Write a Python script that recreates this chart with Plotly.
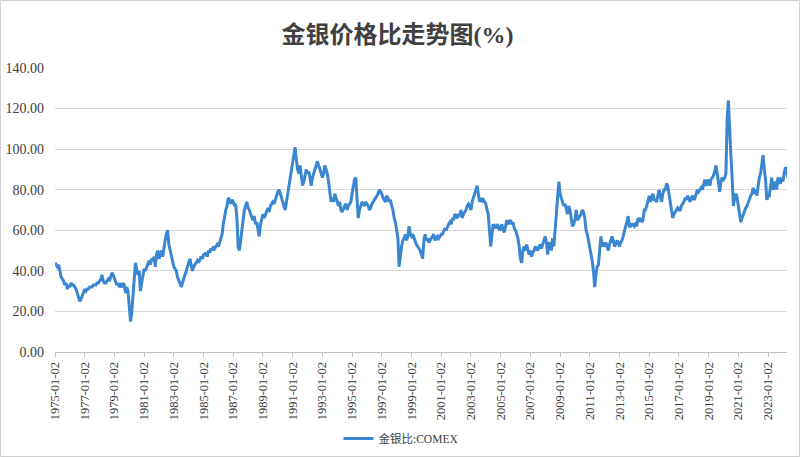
import plotly.graph_objects as go
import pandas as pd

# Monthly gold/silver ratio readings (COMEX), Jan 1975 onward
start_month = "1975-01-02"
ratio_values = [
    # 1975
    44, 42, 43, 39, 37, 36, 35, 33, 34, 31, 33, 32,
    # 1976
    34, 33, 33, 32, 31, 29, 27, 25, 26, 28, 30, 31,
    # 1977
    30, 31, 31, 32, 32, 32, 33, 33, 33, 34, 34, 35,
    # 1978
    36, 38, 35, 34, 34, 35, 36, 35, 37, 39, 38, 36,
    # 1979
    35, 33, 34, 32, 33, 32, 34, 33, 29, 32, 30, 22,
    # 1980
    15, 19, 28, 40, 44, 41, 38, 40, 30, 34, 38, 41,
    # 1981
    40, 42, 44, 45, 43, 46, 45, 47, 42, 48, 50, 46,
    # 1982
    48, 50, 47, 52, 55, 58, 60, 53, 50, 47, 45, 42,
    # 1983
    41, 40, 37, 35, 33, 32, 34, 36, 38, 40, 43, 44,
    # 1984
    46, 43, 40, 42, 43, 44, 45, 44, 46, 47, 46, 48,
    # 1985
    48, 49, 47, 50, 49, 51, 50, 52, 51, 52, 53, 52,
    # 1986
    54, 56, 58, 63, 68, 70, 72, 76, 75, 73, 75, 74,
    # 1987
    72, 73, 66, 52, 50, 55, 62, 65, 70, 72, 74, 71,
    # 1988
    70, 68, 66, 65, 67, 63, 64, 60, 57, 63, 66, 68,
    # 1989
    66, 68, 70, 71, 69, 72, 73, 74, 73, 75, 78, 79,
    # 1990
    80, 78, 76, 74, 72, 70, 74, 78, 82, 86, 90, 94,
    # 1991
    98, 101, 95, 90, 88, 92, 87, 82, 84, 87, 90, 88,
    # 1992
    89, 86, 82, 86, 88, 90, 92, 94, 92, 90, 88, 86,
    # 1993
    88, 92, 90, 88, 84, 78, 74, 76, 74, 78, 76, 75,
    # 1994
    72, 74, 70, 69, 71, 72, 73, 70, 72, 73, 74, 78,
    # 1995
    82, 85, 86, 74, 66, 70, 72, 74, 73, 72, 74, 73,
    # 1996
    72, 70, 71, 73, 74, 75, 76, 77, 78, 80, 79, 78,
    # 1997
    76, 75, 74, 77, 76, 74, 75, 72, 70, 66, 64, 60,
    # 1998
    56, 42, 48, 52, 55, 56, 58, 55, 57, 62, 58, 57,
    # 1999
    58, 56, 55, 53, 52, 51, 50, 48, 46, 55, 58, 55,
    # 2000
    56, 54, 55, 56, 57, 58, 55, 56, 57, 56, 57, 58,
    # 2001
    58, 60, 61, 60, 62, 63, 64, 63, 66, 65, 68, 67,
    # 2002
    66, 68, 67, 70, 66, 68, 69, 70, 72, 73, 72, 70,
    # 2003
    74, 76, 78, 80, 82, 78, 74, 76, 74, 75, 74, 73,
    # 2004
    70, 68, 60, 52, 58, 63, 62, 61, 63, 62, 60, 61,
    # 2005
    63, 60, 59, 62, 65, 63, 64, 65, 63, 64, 61, 60,
    # 2006
    58, 56, 52, 46, 44, 50, 52, 50, 53, 51, 48, 50,
    # 2007
    47, 49, 50, 52, 51, 50, 52, 53, 51, 53, 55, 57,
    # 2008
    54, 48, 54, 53, 50, 56, 52, 60, 70, 80, 84, 78,
    # 2009
    76, 74, 72, 73, 70, 68, 72, 70, 66, 62, 63, 65,
    # 2010
    70, 65, 66, 67, 68, 70, 69, 66, 60, 58, 55, 50,
    # 2011
    47, 45, 40, 32, 38, 42, 43, 50, 57, 52, 54, 52,
    # 2012
    54, 52, 50, 53, 55, 57, 55, 52, 53, 55, 54, 52,
    # 2013
    54, 55, 57, 60, 62, 64, 67, 62, 62, 63, 63, 62,
    # 2014
    63, 62, 66, 65, 66, 64, 65, 70, 70, 72, 74, 77,
    # 2015
    74, 76, 78, 75, 75, 74, 77, 80, 77, 74, 78, 80,
    # 2016
    80, 83, 82, 78, 73, 70, 66, 68, 69, 70, 71, 70,
    # 2017
    70, 72, 73, 74, 76, 75, 77, 75, 74, 76, 77, 75,
    # 2018
    76, 78, 80, 79, 80, 81, 80, 82, 85, 82, 84, 85,
    # 2019
    82, 85, 86, 87, 89, 92, 88, 84, 79, 84, 86, 85,
    # 2020
    86, 88, 115, 124, 106, 97, 86, 72, 76, 78, 76, 72,
    # 2021
    68, 64, 66, 68, 70, 71, 72, 74, 76, 77, 78, 81,
    # 2022
    78, 80, 77, 82, 86, 88, 94, 97, 90, 85, 75, 77,
    # 2023
    77, 82, 86, 80, 82, 84, 80, 86, 84, 83, 86, 84,
    # 2024
    88, 91, 90, 86,
]

tick_labels = [f"{y}-01-02" for y in range(1975, 2024, 2)]
y_tick_values = [0, 20, 40, 60, 80, 100, 120, 140]
y_tick_labels = [f"{v:.2f}" for v in y_tick_values]

series_name = "金银比:COMEX"
title_text = "金银价格比走势图(%)"

dates = pd.date_range(start=start_month, periods=len(ratio_values), freq="MS")
dates = [pd.Timestamp(start_month)] + list(dates[1:] + pd.Timedelta(days=1))

SERIF = "Liberation Serif, DejaVu Serif, serif"
TITLE_FONT = "Liberation Serif, Noto Sans CJK SC, serif"

fig = go.Figure()
fig.add_trace(go.Scatter(
    x=dates, y=ratio_values, mode="lines", name=series_name,
    line=dict(color="#3a86d1", width=3),
))

L, R, T, B = 55, 13, 68, 105
W, H = 800, 457
pw, ph = W - L - R, H - T - B

fig.update_layout(
    width=W, height=H,
    margin=dict(l=L, r=R, t=T, b=B, autoexpand=False),
    paper_bgcolor="white", plot_bgcolor="white",
    title=dict(text=f"<b>{title_text}</b>", x=0.497, xanchor="center",
               y=1 - 35 / H, yanchor="middle",
               font=dict(family=TITLE_FONT, size=24, color="#404040")),
    showlegend=True,
    legend=dict(orientation="h", x=(401 - L) / pw, xanchor="center", y=-(437 - 352 - 13) / ph, yanchor="top",
                font=dict(family=TITLE_FONT, size=11.5, color="#404040"),
                itemwidth=30),
    font=dict(family=SERIF, color="#404040"),
)

fig.update_xaxes(
    type="date", automargin=False,
    range=["1975-01-02", "2024-04-12"],
    tickvals=tick_labels, ticktext=tick_labels,
    tickangle=-90, tickfont=dict(size=12.5, color="#404040", family=SERIF),
    showgrid=False, showline=True, linecolor="#bfbfbf", linewidth=1,
    ticks="outside", ticklen=4, tickcolor="#bfbfbf", zeroline=False,
)
fig.update_yaxes(
    range=[0, 140], tickvals=y_tick_values, ticktext=y_tick_labels, automargin=False,
    tickfont=dict(size=14, color="#404040", family=SERIF),
    showgrid=True, gridcolor="#d9d9d9", gridwidth=1, showline=False, zeroline=False,
    ticks="", ticklabelstandoff=10,
)

fig.add_shape(type="rect", xref="paper", yref="paper",
              x0=(-L + 0.5) / pw, x1=1 + (R - 0.5) / pw,
              y0=(-B + 0.5) / ph, y1=1 + (T - 0.5) / ph,
              line=dict(color="#d0d0d0", width=1), fillcolor="rgba(0,0,0,0)", layer="below")

fig.write_html("out.html", config={"displayModeBar": False},
               post_script="document.body.style.margin='0';document.body.style.overflow='hidden';")
